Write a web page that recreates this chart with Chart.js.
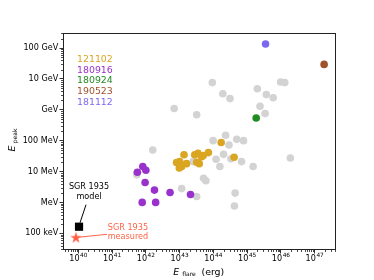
<!DOCTYPE html>
<html>
<head>
<meta charset="utf-8">
<script src="https://cdn.jsdelivr.net/npm/chart.js@4/dist/chart.umd.min.js"></script>
<style>
  html, body { margin: 0; padding: 0; background: #fff; }
</style>
</head>
<body>
<canvas id="chart" width="374" height="280"></canvas>
<script>
// axis ticks
const xTickValues = [1e40, 1e41, 1e42, 1e43, 1e44, 1e45, 1e46, 1e47];
const xTickExponents = ['40', '41', '42', '43', '44', '45', '46', '47'];
const yTickValues = [1e5, 1e6, 1e7, 1e8, 1e9, 1e10, 1e11];
const yTickLabels = ['100 keV', 'MeV', '10 MeV', '100 MeV', 'GeV', '10 GeV', '100 GeV'];

// FRB names shown in the corner legend
const categories = ['121102', '180916', '180924', '190523', '181112'];

// E_flare (erg) and E_peak (eV)
const grayFlare = [6.9e42, 3.2e43, 9.3e43, 1.9e44, 3.1e44, 2.0e45, 3.7e45, 5.9e45, 9.8e45, 1.3e46,
  2.4e45, 3.4e45, 2.3e44, 9.8e43, 4.9e44, 7.8e44, 2.9e44, 1.2e44, 2.0e44, 3.3e44,
  6.8e44, 1.55e44, 1.5e45, 1.9e46, 5.1e43, 6.0e43, 3.2e43, 4.4e44, 4.2e44, 1.15e43,
  1.6e42, 5.4e41, 2.5e43];
const grayPeak = [1.1e9, 6.9e8, 7.6e9, 3.3e9, 2.3e9, 4.8e9, 3.1e9, 2.45e9, 7.9e9, 7.6e9,
  1.3e9, 7.6e8, 1.5e8, 1.0e8, 1.1e8, 1.0e8, 7.2e7, 2.5e7, 3.6e7, 2.6e7,
  2.1e7, 1.45e7, 1.45e7, 2.75e7, 6.0e6, 5.0e6, 1.55e6, 2.0e6, 7.6e5, 2.8e6,
  5.0e7, 7.8e6, 2.1e7];

const frb121102Flare = [1.35e43, 1.0e43, 8.1e42, 1.15e43, 9.8e42, 1.6e43, 3.5e43, 3.2e43, 4.5e43,
  7.1e43, 3.8e43, 5.0e43, 1.7e44, 4.1e44, 2.8e43];
const frb121102Peak = [3.5e7, 2.1e7, 1.95e7, 1.45e7, 1.3e7, 1.8e7, 3.9e7, 2.0e7, 3.0e7,
  4.1e7, 1.8e7, 3.3e7, 8.7e7, 2.9e7, 3.5e7];

const frb180916Flare = [8.1e41, 1.0e42, 5.6e41, 9.5e41, 1.8e42, 5.2e42, 2.1e43, 7.8e41, 1.95e42];
const frb180916Peak = [1.45e7, 1.1e7, 9.5e6, 4.4e6, 2.5e6, 2.1e6, 1.8e6, 1.0e6, 1.0e6];

const frb180924Flare = [1.85e45];
const frb180924Peak = [5.4e8];

const frb190523Flare = [1.9e47];
const frb190523Peak = [2.95e10];

const frb181112Flare = [3.5e45];
const frb181112Peak = [1.35e11];

const sgrModelFlare = [1.05e40];
const sgrModelPeak = [1.63e5];
const sgrMeasuredFlare = [8.5e39];
const sgrMeasuredPeak = [7.4e4];

const catColors = ['#DAA520', '#9932CC', '#228B22', '#A0522D', '#7B68EE'];
const grayColor = '#D3D3D3';
const sgrColor = '#FF6347';
const FONT = 'DejaVu Sans';

function toPoints(xs, ys) {
  return xs.map((v, i) => ({ x: v, y: ys[i] }));
}

// filled star marker (the built-in 'star' is only stroked)
function makeStar(size, color) {
  const c = document.createElement('canvas');
  c.width = size; c.height = size;
  const g = c.getContext('2d');
  const R = size / 2, r = R * 0.382;
  g.beginPath();
  for (let i = 0; i < 10; i++) {
    const rad = i % 2 ? r : R;
    const ang = -Math.PI / 2 + i * Math.PI / 5;
    g.lineTo(R + rad * Math.cos(ang), R + 0.6 + rad * Math.sin(ang));
  }
  g.closePath();
  g.fillStyle = color;
  g.fill();
  return c;
}

const flares = [frb121102Flare, frb180916Flare, frb180924Flare, frb190523Flare, frb181112Flare];
const peaks = [frb121102Peak, frb180916Peak, frb180924Peak, frb190523Peak, frb181112Peak];

const datasets = categories.map((name, i) => ({
  label: name,
  data: toPoints(flares[i], peaks[i]),
  backgroundColor: catColors[i],
  borderWidth: 0,
  pointRadius: 3.8,
  order: 0
}));
datasets.push({
  label: 'others',
  data: toPoints(grayFlare, grayPeak),
  backgroundColor: grayColor,
  borderWidth: 0,
  pointRadius: 3.8,
  order: 1
});
datasets.push({
  label: 'SGR 1935 model',
  data: toPoints(sgrModelFlare, sgrModelPeak),
  backgroundColor: '#000',
  borderWidth: 0,
  pointStyle: 'rect',
  pointRadius: 5.8,
  order: 0
});
datasets.push({
  label: 'SGR 1935 measured',
  data: toPoints(sgrMeasuredFlare, sgrMeasuredPeak),
  pointStyle: makeStar(12, sgrColor),
  pointRadius: 6,
  order: 0
});

// minor ticks, frame, x tick labels, text labels
const decor = {
  id: 'decor',
  afterDraw(chart) {
    const { ctx, chartArea: a, scales: { x, y } } = chart;
    ctx.save();

    ctx.strokeStyle = '#000';
    ctx.lineWidth = 0.7;
    ctx.beginPath();
    for (let d = 39; d <= 47; d++) {
      for (let k = 2; k <= 9; k++) {
        const v = k * Math.pow(10, d);
        if (v <= x.min || v >= x.max) continue;
        const px = Math.round(x.getPixelForValue(v)) + 0.5;
        ctx.moveTo(px, a.bottom);
        ctx.lineTo(px, a.bottom + 2);
      }
    }
    for (let d = 4; d <= 11; d++) {
      for (let k = 2; k <= 9; k++) {
        const v = k * Math.pow(10, d);
        if (v <= y.min || v >= y.max) continue;
        const py = Math.round(y.getPixelForValue(v)) + 0.5;
        ctx.moveTo(a.left, py);
        ctx.lineTo(a.left - 2, py);
      }
    }
    ctx.stroke();

    ctx.strokeStyle = '#222';
    ctx.lineWidth = 1;
    ctx.strokeRect(a.left + 0.5, a.top + 0.5, a.right - a.left - 1, a.bottom - a.top - 1);

    // x tick labels: 10 with raised exponent
    ctx.fillStyle = '#000';
    ctx.textAlign = 'left';
    ctx.textBaseline = 'alphabetic';
    xTickValues.forEach((v, i) => {
      const px = x.getPixelForValue(v);
      ctx.font = '8.1px "' + FONT + '"';
      const wb = ctx.measureText('10').width;
      ctx.font = '5.8px "' + FONT + '"';
      const we = ctx.measureText(xTickExponents[i]).width;
      const left = px - (wb + we + 0.5) / 2;
      ctx.font = '8.1px "' + FONT + '"';
      ctx.fillText('10', left, 261);
      ctx.font = '5.8px "' + FONT + '"';
      ctx.fillText(xTickExponents[i], left + wb + 0.5, 257.3);
    });

    // legend as coloured names
    ctx.font = '9.4px "' + FONT + '"';
    ctx.textBaseline = 'middle';
    categories.forEach((name, i) => {
      ctx.fillStyle = catColors[i];
      ctx.fillText(name, 77, 59.5 + i * 10.7);
    });

    // SGR annotations
    const mx = x.getPixelForValue(sgrModelFlare[0]);
    const my = y.getPixelForValue(sgrModelPeak[0]);
    ctx.font = '8.1px "' + FONT + '"';
    ctx.textAlign = 'center';
    ctx.fillStyle = '#000';
    ctx.fillText('SGR 1935', mx + 10, my - 39.5);
    ctx.fillText('model', mx + 10, my - 29.5);
    ctx.strokeStyle = '#000';
    ctx.lineWidth = 1;
    ctx.beginPath();
    ctx.moveTo(mx + 7, my - 22);
    ctx.lineTo(mx + 1, my - 4);
    ctx.stroke();

    const sx = x.getPixelForValue(sgrMeasuredFlare[0]);
    const sy = y.getPixelForValue(sgrMeasuredPeak[0]);
    ctx.fillStyle = sgrColor;
    ctx.fillText('SGR 1935', sx + 52, sy - 9.8);
    ctx.fillText('measured', sx + 52, sy - 0.2);
    ctx.strokeStyle = sgrColor;
    ctx.beginPath();
    ctx.moveTo(sx + 2, sy);
    ctx.lineTo(sx + 31, sy - 3);
    ctx.stroke();

    // axis titles with subscripts
    ctx.fillStyle = '#000';
    ctx.textAlign = 'left';
    ctx.textBaseline = 'alphabetic';
    ctx.font = 'italic 9.4px "' + FONT + '"';
    ctx.fillText('E', 173.3, 274.5);
    ctx.font = '6px "' + FONT + '"';
    ctx.fillText('flare', 182.3, 276.2);
    ctx.font = '9.4px "' + FONT + '"';
    ctx.fillText('(erg)', 201.5, 274.5);

    ctx.translate(15, 151.5);
    ctx.rotate(-Math.PI / 2);
    ctx.font = 'italic 9.4px "' + FONT + '"';
    ctx.fillText('E', 0, 0);
    ctx.font = '6px "' + FONT + '"';
    ctx.fillText('peak', 8.3, 1.7);

    ctx.restore();
  }
};

new Chart(document.getElementById('chart'), {
  type: 'scatter',
  data: { datasets },
  plugins: [decor],
  options: {
    responsive: false,
    animation: false,
    devicePixelRatio: 1,
    layout: { padding: { left: 0, top: 33, right: 38, bottom: 0 } },
    plugins: { legend: { display: false }, tooltip: { enabled: false } },
    elements: { point: { hoverRadius: 4 } },
    scales: {
      x: {
        type: 'logarithmic',
        min: 3.52e39,
        max: 4.27e47,
        afterBuildTicks: s => { s.ticks = xTickValues.map(v => ({ value: v })); },
        afterFit: s => { s.height = 30; },
        ticks: { display: false, autoSkip: false, maxRotation: 0 },
        grid: { drawOnChartArea: false, tickLength: 3.5, tickColor: '#000', tickWidth: 0.8 },
        border: { display: false }
      },
      y: {
        type: 'logarithmic',
        min: 2.87e4,
        max: 3.07e11,
        afterBuildTicks: s => { s.ticks = yTickValues.map(v => ({ value: v })); },
        afterFit: s => { s.width = 63; },
        ticks: {
          autoSkip: false,
          padding: 1.3,
          color: '#000',
          font: { family: FONT, size: 8.1 },
          callback: (v, i) => yTickLabels[i]
        },
        grid: { drawOnChartArea: false, tickLength: 3.5, tickColor: '#000', tickWidth: 0.8 },
        border: { display: false }
      }
    }
  }
});
</script>
</body>
</html>
